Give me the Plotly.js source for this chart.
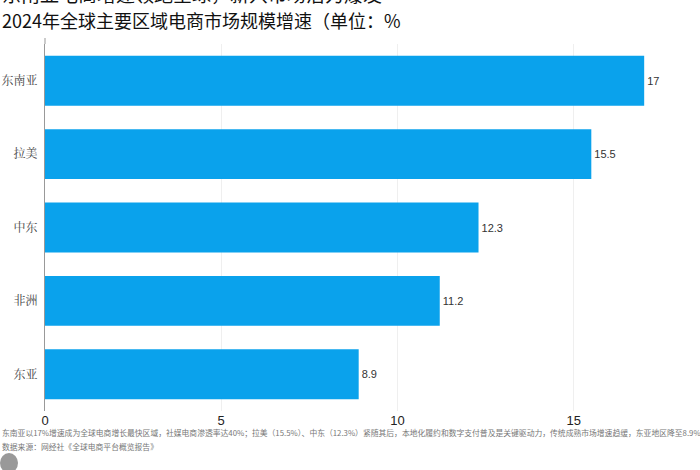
<!DOCTYPE html>
<html>
<head>
<meta charset="utf-8">
<script src="https://cdn.plot.ly/plotly-3.0.1.min.js"></script>
<style>
  html, body { margin: 0; padding: 0; background: #fff; }
  #chart { width: 700px; height: 470px; }
</style>
</head>
<body>
<div id="chart"></div>
<script>
// regions, top to bottom as drawn
const REGIONS = ["东南亚", "拉美", "中东", "非洲", "东亚"];
// market-size growth, %
const GROWTH = [17, 15.5, 12.3, 11.2, 8.9];
const X_TICKS = [0, 5, 10, 15];

const HEADLINE = "东南亚电商增速领跑全球，新兴市场潜力爆发";
const TITLE = "2024年全球主要区域电商市场规模增速（单位：%";
const NOTE_1 = "东南亚以17%增速成为全球电商增长最快区域，社媒电商渗透率达40%；拉美（15.5%）、中东（12.3%）紧随其后，本地化履约和数字支付普及是关键驱动力，传统成熟市场增速趋缓，东亚地区降至8.9%";
const NOTE_2 = "数据来源：网经社《全球电商平台概览报告》";

const CJK = '"Noto Sans CJK SC", "Noto Sans", sans-serif';
const LATIN = '"Liberation Sans", Arial, sans-serif';

// plot box in pixels, used to place the texts around it
const M = { l: 45, r: 10, t: 44, b: 59 };
const PW = 700 - M.l - M.r;
const PH = 470 - M.t - M.b;
const px = (x) => (x - M.l) / PW;          // page x -> paper x
const py = (y) => 1 - (y - M.t) / PH;      // page y -> paper y

const traces = [
  {
    type: "bar",
    orientation: "h",
    x: GROWTH,
    y: REGIONS,
    marker: { color: "#0aa2ec", line: { width: 0 } },
    text: GROWTH.map(String),
    textposition: "outside",
    cliponaxis: false,
    textfont: { family: LATIN, size: 11, color: "#333" },
    hoverinfo: "x+y",
  },
];

const layout = {
  width: 700,
  height: 470,
  margin: M,
  paper_bgcolor: "#fff",
  plot_bgcolor: "#fff",
  showlegend: false,
  bargap: 0.32,
  font: { family: CJK, color: "#333" },
  xaxis: {
    range: [0, 18.3],
    tickvals: X_TICKS,
    showgrid: true,
    gridcolor: "#efefef",
    gridwidth: 1,
    zeroline: false,
    showline: false,
    ticks: "",
    tickfont: { family: LATIN, size: 13, color: "#222" },
    fixedrange: true,
  },
  yaxis: {
    autorange: "reversed",
    showline: true,
    linecolor: "#999",
    linewidth: 1,
    showgrid: false,
    ticks: "",
    ticklabelstandoff: 4,
    tickfont: { family: '"Noto Serif CJK SC", ' + CJK, size: 12, color: "#444" },
    fixedrange: true,
  },
  shapes: [
    // axis line runs a little above the plot box
    { type: "line", xref: "paper", yref: "paper", x0: 0, x1: 0, y0: 1, y1: py(38),
      line: { color: "#999", width: 1 } },
    // logo disc at the bottom-left
    { type: "circle", xref: "paper", yref: "paper", x0: px(0), x1: px(18), y0: py(453), y1: py(473),
      fillcolor: "#999", line: { width: 0 } },
  ],
  annotations: [
    {
      xref: "paper", yref: "paper", x: px(0), y: py(-7),
      xanchor: "left", yanchor: "middle",
      text: HEADLINE, showarrow: false,
      font: { family: CJK, size: 19, color: "#111" },
    },
    {
      xref: "paper", yref: "paper", x: px(0), y: py(20),
      xanchor: "left", yanchor: "middle",
      text: TITLE, showarrow: false,
      font: { family: CJK, size: 18, color: "#111" },
    },
    {
      xref: "paper", yref: "paper", x: px(0), y: py(432),
      xanchor: "left", yanchor: "middle",
      text: NOTE_1, showarrow: false,
      font: { family: CJK, size: 7.8, color: "#777" },
    },
    {
      xref: "paper", yref: "paper", x: px(0), y: py(446),
      xanchor: "left", yanchor: "middle",
      text: NOTE_2, showarrow: false,
      font: { family: CJK, size: 7.8, color: "#777" },
    },
  ],
};

Plotly.newPlot("chart", traces, layout, { displayModeBar: false, staticPlot: true });
</script>
</body>
</html>
